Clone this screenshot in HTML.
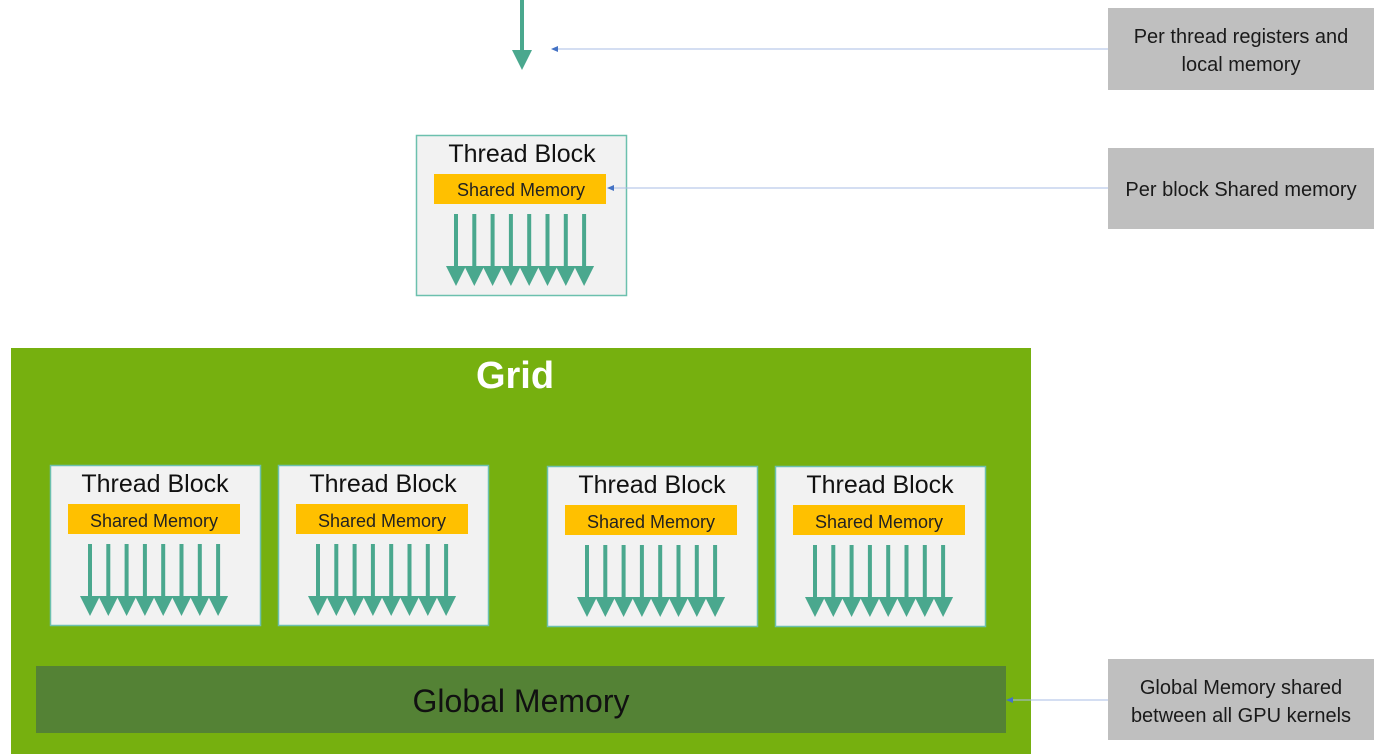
<!DOCTYPE html>
<html><head><meta charset="utf-8"><style>
html,body{margin:0;padding:0;background:#fff;width:1382px;height:754px;overflow:hidden}
svg{display:block}
text{font-family:"Liberation Sans",sans-serif}
</style></head><body>
<svg width="1382" height="754" viewBox="0 0 1382 754" xmlns="http://www.w3.org/2000/svg">
<defs>
<g id="arrows" fill="#4aa88e" stroke="none">
  <g id="a1"><rect x="-2" y="0" width="4" height="54"/><polygon points="-10,52 10,52 0,72"/></g>
  <use href="#a1" x="18.3"/><use href="#a1" x="36.6"/><use href="#a1" x="54.9"/>
  <use href="#a1" x="73.2"/><use href="#a1" x="91.5"/><use href="#a1" x="109.8"/><use href="#a1" x="128.1"/>
</g>
<g id="block">
  <rect x="0.5" y="0.5" width="210" height="160" fill="#f2f2f2" stroke="#6cc0ae" stroke-width="1.5"/>
  <rect x="18" y="39" width="172" height="30" fill="#ffc000"/>
  <use href="#arrows" x="40" y="79"/>
</g>
</defs>

<!-- top arrow -->
<rect x="520" y="0" width="4" height="52" fill="#4aa88e"/>
<polygon points="512,50 532,50 522,70" fill="#4aa88e"/>

<!-- label boxes -->
<g fill="#bfbfbf">
<rect x="1108" y="8" width="266" height="82"/>
<rect x="1108" y="148" width="266" height="81"/>
<rect x="1108" y="659" width="266" height="81"/>
</g>
<g font-size="20" fill="#1a1a1a" text-anchor="middle">
<text x="1241" y="43">Per thread registers and</text>
<text x="1241" y="71">local memory</text>
<text x="1241" y="196">Per block Shared memory</text>
<text x="1241" y="694">Global Memory shared</text>
<text x="1241" y="722">between all GPU kernels</text>
</g>

<!-- top block -->
<use href="#block" x="416" y="135"/>
<text x="522" y="162" font-size="25" text-anchor="middle" fill="#111">Thread Block</text>
<text x="521" y="196" font-size="18" text-anchor="middle" fill="#222">Shared Memory</text>

<!-- grid -->
<rect x="11" y="348" width="1020" height="406" fill="#76b00f"/>
<text x="515" y="388" font-size="38" font-weight="bold" text-anchor="middle" fill="#fff">Grid</text>

<use href="#block" x="50" y="465"/>
<use href="#block" x="278" y="465"/>
<use href="#block" x="547" y="466"/>
<use href="#block" x="775" y="466"/>
<g font-size="25" text-anchor="middle" fill="#111">
<text x="155" y="492">Thread Block</text>
<text x="383" y="492">Thread Block</text>
<text x="652" y="493">Thread Block</text>
<text x="880" y="493">Thread Block</text>
</g>
<g font-size="18" text-anchor="middle" fill="#222">
<text x="154" y="527">Shared Memory</text>
<text x="382" y="527">Shared Memory</text>
<text x="651" y="528">Shared Memory</text>
<text x="879" y="528">Shared Memory</text>
</g>

<rect x="36" y="666" width="970" height="67" fill="#548235"/>
<text x="521" y="712" font-size="32" text-anchor="middle" fill="#111">Global Memory</text>

<!-- connectors -->
<g stroke="#a9bde6" stroke-width="1">
<line x1="556" y1="49" x2="1108" y2="49"/>
<line x1="612" y1="188" x2="1108" y2="188"/>
<line x1="1011" y1="700" x2="1108" y2="700"/>
</g>
<g fill="#4472c4">
<polygon points="551,49 558,46 558,52"/>
<polygon points="607,188 614,185 614,191"/>
<polygon points="1006,700 1013,697 1013,703"/>
</g>
</svg>
</body></html>
